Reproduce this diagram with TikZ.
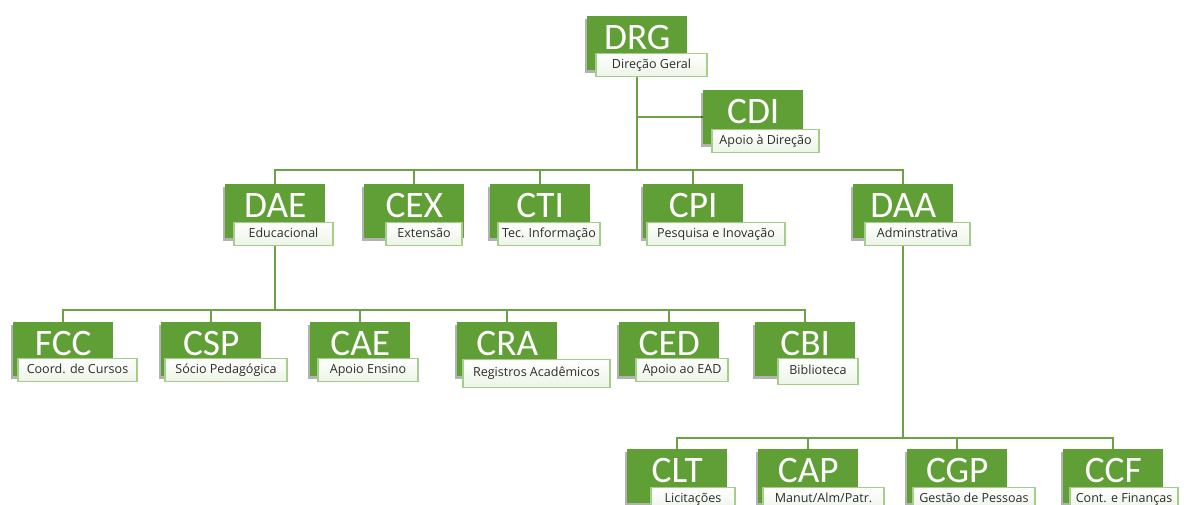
\documentclass[tikz,border=0pt]{standalone}
\usepackage{fontspec}
\setmainfont{Open Sans}
\newfontfamily\siglafont{Carlito}
\usetikzlibrary{positioning,shadows}

\definecolor{verdeCaixa}{RGB}{96,159,53}
\definecolor{verdeLinha}{RGB}{110,160,70}
\definecolor{verdeBorda}{RGB}{165,206,138}
\definecolor{verdeClaro}{RGB}{236,244,230}
\definecolor{textoRotulo}{RGB}{45,45,45}

\pgfdeclarelayer{fundo}
\pgfsetlayers{fundo,main}

\tikzset{
  sigla/.style={fill=verdeCaixa, text=white, anchor=north west,
    minimum width=75pt, minimum height=40.5pt, inner sep=0pt,
    text height=19pt, text depth=9pt,
    font=\siglafont\fontsize{28}{30}\selectfont,
    drop shadow={shadow xshift=-1.5pt, shadow yshift=-2pt, opacity=0.3, fill=black}},
  rotulo/.style={draw=verdeBorda, line width=0.8pt, top color=white,
    bottom color=verdeClaro, text=textoRotulo, anchor=north, inner sep=0pt,
    text height=7.2pt, text depth=2pt, font=\fontsize{9.4}{11}\selectfont},
  ligacao/.style={draw=verdeLinha, line width=1.4pt, line cap=rect}
}

\begin{document}
\begin{tikzpicture}[x=0.75pt, y=-0.75pt]
\useasboundingbox (0,0) rectangle (1184,505);
\clip (0,0) rectangle (1184,505);

% Green unit boxes
\foreach \n/\x/\y/\s in {
  drg/587/16/DRG, cdi/703/90/CDI,
  dae/225/184/DAE, cex/364/184/CEX, cti/490/184/CTI,
  cpi/643/184/CPI, daa/853/184/DAA,
  fcc/13/322/FCC, csp/161/322/CSP, cae/310/322/CAE,
  cra/457/322/CRA, ced/619/322/CED, cbi/755/322/CBI,
  clt/627/449/CLT, cap/758/449/CAP, cgp/907/449/CGP, ccf/1063/449/CCF
}
{
  \node[sigla] (\n) at (\x,\y) {\s};
}

% Name labels
\foreach \n/\x/\y/\w/\h/\t in {
  drg/651.5/53/83.25/17.25/{Direção Geral},
  cdi/765.5/129/80.25/17.25/{Apoio à Direção},
  dae/283.5/222/74.25/17.25/{Educacional},
  cex/424/222/57/17.25/{Extensão},
  cti/549/222/76.5/17.25/{Tec. Informação},
  cpi/716/222/103.5/17.25/{Pesquisa e Inovação},
  daa/917.5/222/78.75/17.25/{Adminstrativa},
  fcc/77.5/358/89.25/17.25/{Coord. de Cursos},
  csp/226/358/91.5/17.25/{Sócio Pedagógica},
  cae/368/358/75/17.25/{Apoio Ensino},
  cra/536.5/359/110.25/21/{Registros Acadêmicos},
  ced/682/358/69/17.25/{Apoio ao EAD},
  cbi/818/358/60/19.5/{Biblioteca},
  clt/693/487/63/17.25/{Licitações},
  cap/823.5/487/90.75/17.25/{Manut/Alm/Patr.},
  cgp/974/487/91.5/17.25/{Gestão de Pessoas},
  ccf/1124/487/81/17.25/{Cont. e Finanças}
}
{
  \node[rotulo, minimum width=\w pt, minimum height=\h pt] (\n-l) at (\x,\y) {\t};
}

% Bus levels
\coordinate (nivel2) at (0,170);
\coordinate (nivel3) at (0,310);
\coordinate (nivel4) at (0,438);

\begin{pgfonlayer}{fundo}
% Direction
\draw[ligacao] (drg.center) -- (drg.center |- nivel2);
\draw[ligacao] (drg.center |- cdi.west) -- (cdi.west);

% Second level
\draw[ligacao] (dae.center |- nivel2) -- (daa.center |- nivel2);
\foreach \n in {dae,cex,cti,cpi,daa}
  \draw[ligacao] (\n.center) -- (\n.center |- nivel2);

% Educational units
\draw[ligacao] (dae.center) -- (dae.center |- nivel3);
\draw[ligacao] (fcc.center |- nivel3) -- (cbi.center |- nivel3);
\foreach \n in {fcc,csp,cae,cra,ced,cbi}
  \draw[ligacao] (\n.center) -- (\n.center |- nivel3);

% Administrative units
\draw[ligacao] (daa.center) -- (daa.center |- nivel4);
\draw[ligacao] (clt.center |- nivel4) -- (ccf.center |- nivel4);
\foreach \n in {clt,cap,cgp,ccf}
  \draw[ligacao] (\n.center) -- (\n.center |- nivel4);
\end{pgfonlayer}

\end{tikzpicture}
\end{document}
